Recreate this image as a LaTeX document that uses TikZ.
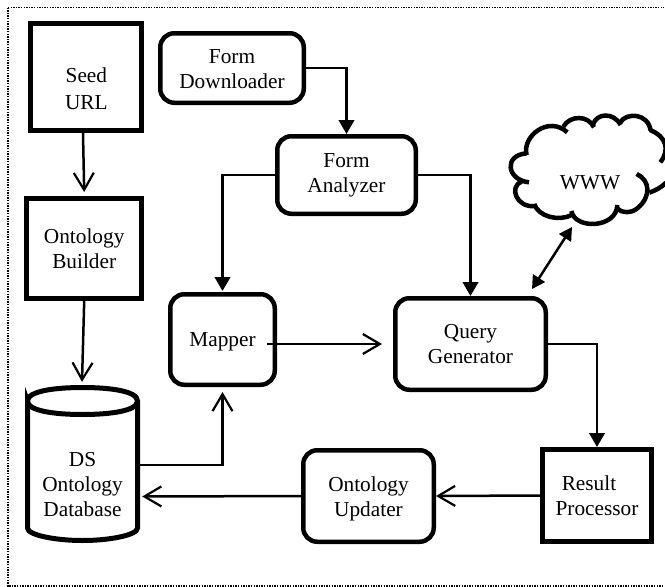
\documentclass[tikz,border=0pt]{standalone}
\usepackage{fontspec}
\setmainfont{Liberation Serif}
\usetikzlibrary{arrows.meta,calc}
\tikzset{
  txt/.style={align=center,font=\fontsize{21.3}{25}\selectfont,inner sep=0pt},
  sqbox/.style={txt,draw,line width=5pt,sharp corners,outer sep=2.5pt},
  rdbox/.style={txt,draw,line width=4.5pt,rounded corners=14pt,outer sep=2.25pt},
  solidtip/.style={-{Triangle[length=14pt,width=15.5pt]}},
  opentip/.style={-{Straight Barb[length=17pt,width=20pt,line width=2.2pt]}},
  conn/.style={line width=2.5pt},
}
\begin{document}
\begin{tikzpicture}[x=1pt,y=-1pt]
\useasboundingbox (0,0) rectangle (665,587);
\draw[line width=1.6pt,dash pattern=on 1.4pt off 1.2pt] (8,7.5) -- (664,7.5) (8,7.5) -- (8,586) -- (664,586);
% boxes
\node[sqbox,minimum width=111,minimum height=107] (seed) at (86.4,77) {\rule{0pt}{39pt}Seed\\[2pt]URL};
\node[sqbox,minimum width=115.5,minimum height=100] (builder) at (84.2,248.5) {Ontology\\Builder};
\node[rdbox,minimum width=143.5,minimum height=69.5] (fd) at (232,68) {\rule{0pt}{17pt}Form\\Downloader};
\node[rdbox,minimum width=138.5,minimum height=77.5] (fa) at (346.5,175) {Form\\Analyzer};
\node[rdbox,minimum width=104.5,minimum height=90.5] (mapper) at (222.5,339.5) {\rule{0pt}{19.5pt}Mapper};
\node[rdbox,minimum width=150.5,minimum height=91.5] (qg) at (470.5,344) {Query\\Generator};
\node[sqbox,minimum width=109,minimum height=92] (rp) at (597,495.5) {Result\hspace*{16pt}\\Processor};
\node[rdbox,minimum width=130.5,minimum height=91.5] (ou) at (368.5,496) {\rule{0pt}{21pt}Ontology\\Updater};
% database
\node[txt,minimum width=115,minimum height=158] (db) at (82.5,464) {\rule{0pt}{55.4pt}DS\\Ontology\\Database};
\draw[line width=5pt] (27.5,401) .. controls (27.5,391) and (55,387.5) .. (82.5,387.5)
  .. controls (110,387.5) and (137.5,391) .. (137.5,401)
  .. controls (137.5,411) and (110,414.5) .. (82.5,414.5)
  .. controls (55,414.5) and (27.5,411) .. (27.5,401) -- (27.5,528)
  .. controls (27.5,535) and (55,540.5) .. (82.5,540.5)
  .. controls (110,540.5) and (137.5,535) .. (137.5,528) -- (137.5,401);
% cloud
\begin{scope}[line width=4.5pt,line cap=butt,shift={(480,100)},x=0.3333pt,y=-0.3333pt]
\draw (140,165) .. controls (125,110) and (205,45) .. (262,97);
\draw (250,80) .. controls (270,45) and (325,45) .. (342,82);
\draw (340,72) .. controls (350,40) and (400,35) .. (422,75);
\draw (420,68) .. controls (440,35) and (505,40) .. (512,92);
\draw (510,90) .. controls (560,110) and (570,150) .. (541,187);
\draw (470,222) .. controls (510,240) and (515,290) .. (472,325) .. controls (455,340) and (425,340) .. (412,325);
\draw (508,278) .. controls (525,272) and (545,262) .. (558,248);
\draw (412,315) .. controls (410,385) and (285,390) .. (274,333);
\draw (276,345) .. controls (235,365) and (175,350) .. (163,312);
\draw (165,318) .. controls (110,325) and (85,260) .. (125,245);
\draw (147,247) .. controls (80,240) and (70,165) .. (140,160);
\end{scope}
\node[txt] (www) at (590,183) {WWW};
\coordinate (wwwend) at (572,227);
% connectors
\draw[conn,opentip] ($(seed.south)+(-3.4,0)$) -- ($(builder.north)+(0,-4)$);
\draw[conn,opentip] (builder.south) -- ($(db.north)+(-0.5,-3)$);
\draw[conn,solidtip] (fd.east) -| (fa.north);
\draw[conn,solidtip] (fa.west) -| ($(mapper.north)+(0,-1)$);
\draw[conn,solidtip] (fa.east) -| (qg.north);
\draw[conn,opentip] ($(mapper.east)+(-10,4.5)$) -- ($(qg.west)+(-11,0)$);
\draw[conn,opentip] ($(db.east)+(0,1)$) -| ($(mapper.south)+(0,5)$);
\draw[conn,opentip] (ou.west) -- ($(db.east)+(2,32.5)$);
\draw[conn,opentip] (rp.west) -- (ou.east);
\draw[conn,solidtip] (qg.east) -| (rp.north);
\draw[line width=2.5pt,{Triangle[length=13pt,width=14pt]}-{Triangle[length=13pt,width=14pt]}] ($(qg.north)+(61.5,-7)$) -- (wwwend);
\end{tikzpicture}
\end{document}
